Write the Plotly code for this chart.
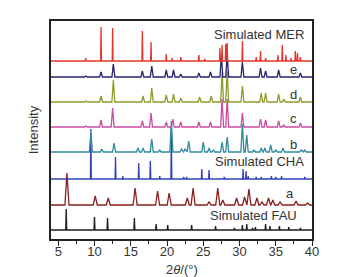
import plotly.graph_objects as go

# Series names (bottom to top) and vertical offsets (baselines)
names = ["Simulated FAU", "a", "Simulated CHA", "b", "c", "d", "e", "Simulated MER"]
offsets = [9, 34, 60, 87, 112, 137, 162, 178]
colors = ["#1e1e1e", "#8a1f1f", "#3341b5", "#2f8a9b", "#cc4aa3", "#8f9a2e", "#25246f", "#e8332b"]
half_widths = [0.07, 0.28, 0.06, 0.21, 0.2, 0.2, 0.2, 0.06]

# Peak positions (2theta) and heights
fau_pos = [6.1, 10.0, 11.8, 15.5, 18.5, 20.1, 23.4, 26.7, 29.3, 30.4, 31.0, 31.8, 32.2, 33.6, 34.2, 35.5, 36.8, 38.4]
fau_h = [21, 13, 12, 12, 6, 5, 5, 4, 2, 5, 6, 2, 3, 6, 4, 4, 3, 2]

a_pos = [6.2, 10.1, 11.9, 15.6, 18.7, 20.3, 22.8, 23.6, 25.8, 27.0, 27.7, 29.6, 30.7, 31.3, 32.4, 33.1, 34.0, 34.6, 35.6, 37.8, 39.4]
a_h = [32, 9, 7, 17, 14, 12, 7, 17, 3, 17, 5, 7, 8, 16, 7, 3, 7, 5, 3, 4, 2]

cha_pos = [9.5, 12.9, 13.9, 16.1, 17.7, 19.0, 20.6, 22.3, 22.7, 24.8, 25.8, 27.9, 30.5, 30.9, 31.2, 32.3, 33.0, 34.4, 35.0, 35.8, 39.0]
cha_h = [50, 22, 3, 16, 18, 3, 50, 2, 2, 10, 9, 2, 10, 8, 3, 2, 2, 3, 2, 3, 2]

b_pos = [9.5, 11.0, 12.7, 16.0, 16.7, 17.9, 19.0, 20.6, 22.0, 22.5, 23.0, 25.0, 25.8, 26.4, 27.6, 28.3, 30.4, 31.0, 32.0, 33.0, 33.5, 34.3, 35.0, 36.0, 38.5, 39.0]
b_h = [19, 3, 9, 4, 4, 13, 2, 31, 3, 3, 11, 10, 4, 2, 10, 15, 28, 17, 2, 4, 4, 7, 2, 4, 2, 2]

c_pos = [8.8, 10.9, 12.5, 16.6, 17.8, 19.9, 20.8, 21.9, 24.4, 26.0, 27.6, 28.3, 30.4, 32.9, 33.6, 35.4, 36.1, 38.4]
c_h = [1, 7, 19, 6, 14, 5, 8, 5, 5, 5, 28, 28, 14, 8, 7, 6, 2, 4]

d_pos = [8.8, 10.9, 12.6, 16.7, 17.9, 19.9, 20.9, 21.9, 24.5, 26.1, 27.6, 28.3, 30.4, 33.0, 33.6, 35.4, 36.1, 38.4]
d_h = [1, 6, 22, 6, 14, 7, 8, 4, 5, 6, 30, 31, 16, 9, 9, 8, 3, 5]

e_pos = [8.8, 10.9, 12.6, 16.6, 17.9, 19.9, 20.9, 21.9, 24.4, 26.0, 27.5, 28.3, 30.4, 32.9, 33.6, 35.4, 38.4]
e_h = [1, 5, 13, 6, 11, 7, 7, 3, 4, 5, 22, 22, 15, 9, 6, 7, 4]

mer_pos = [8.8, 10.9, 12.5, 16.6, 17.8, 19.9, 20.7, 21.9, 24.4, 25.2, 27.3, 27.6, 28.1, 28.3, 30.4, 32.3, 32.9, 33.6, 35.3, 35.9, 36.4, 37.1, 37.7, 38.0, 38.4]
mer_h = [3, 34, 33, 30, 19, 7, 3, 4, 6, 2, 13, 16, 17, 18, 20, 4, 10, 3, 6, 16, 6, 3, 10, 8, 4]

peaks = [(fau_pos, fau_h), (a_pos, a_h), (cha_pos, cha_h), (b_pos, b_h),
         (c_pos, c_h), (d_pos, d_h), (e_pos, e_h), (mer_pos, mer_h)]

x_start, x_end = 4.0, 40.0
y_top = 218

fig = go.Figure()
for (pos, hts), off, col, w in zip(peaks, offsets, colors, half_widths):
    xs, ys = [x_start], [off]
    for p, h in zip(pos, hts):
        xs += [p - w, p, p + w]
        ys += [off, off + h, off]
    xs.append(x_end)
    ys.append(off)
    fig.add_trace(go.Scatter(x=xs, y=ys, mode="lines",
                             line=dict(color=col, width=1.3),
                             showlegend=False, hoverinfo="skip"))

# labels: (text, x, y, anchor)
label_text = ["Simulated MER", "e", "d", "c", "b", "Simulated CHA", "a", "Simulated FAU"]
label_x = [39.2, 37.4, 37.4, 37.4, 37.4, 39.2, 37.0, 38.2]
label_y = [205, 170, 145, 121, 95, 78, 46, 24]
label_anchor = ["right", "center", "center", "center", "center", "right", "center", "right"]
for t, lx, ly, an in zip(label_text, label_x, label_y, label_anchor):
    fig.add_annotation(x=lx, y=ly, text=t, showarrow=False, xanchor=an, yanchor="middle",
                       font=dict(size=13, color="#333333", family="Liberation Sans, Arial"))

# x-axis title placed close under the tick labels
fig.add_annotation(x=0.5, xref="paper", y=-0.14, yref="paper", text="2<i>θ</i>/(°)",
                   showarrow=False, xanchor="center", yanchor="middle",
                   font=dict(size=13, color="#333333", family="Liberation Sans, Arial"))

# y-axis title placed further left, as in the reference
fig.add_annotation(x=-0.068, xref="paper", y=0.5, yref="paper", text="Intensity",
                   showarrow=False, textangle=-90, xanchor="center", yanchor="middle",
                   font=dict(size=13, color="#333333", family="Liberation Sans, Arial"))

fig.update_layout(
    width=337, height=277,
    margin=dict(l=43, r=33, t=13, b=46),
    paper_bgcolor="white", plot_bgcolor="white",
    font=dict(family="Liberation Sans, Arial", size=13, color="#333333"),
    xaxis=dict(range=[x_start, x_end], tickvals=[5, 10, 15, 20, 25, 30, 35, 40],
               ticks="outside", ticklen=5, tickwidth=1.2, tickcolor="#222",
               ticklabelstandoff=-5,
               minor=dict(tickvals=[7.5, 12.5, 17.5, 22.5, 27.5, 32.5, 37.5], ticks="outside", ticklen=3, tickcolor="#222"),
               showline=True, linecolor="#222", linewidth=1.5, mirror=True,
               showgrid=False, zeroline=False,
               tickfont=dict(size=13)),
    yaxis=dict(range=[0, y_top], showticklabels=False, ticks="",
               showline=True, linecolor="#222", linewidth=1.5, mirror=True,
               showgrid=False, zeroline=False),
)

fig.write_html("out.html")
